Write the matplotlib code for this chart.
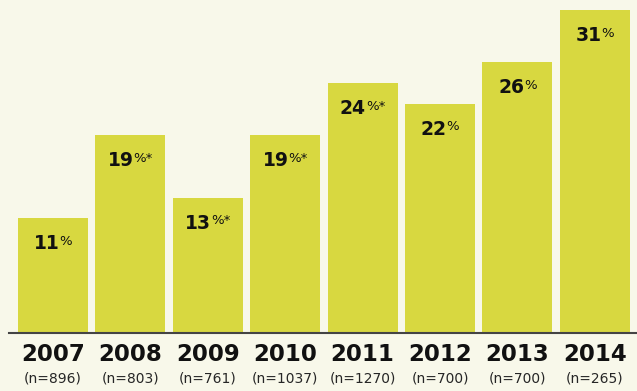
import matplotlib
matplotlib.use("Agg")
import matplotlib.pyplot as plt
from matplotlib.transforms import offset_copy

years = ["2007", "2008", "2009", "2010", "2011", "2012", "2013", "2014"]
counts = ["(n=896)", "(n=803)", "(n=761)", "(n=1037)", "(n=1270)", "(n=700)", "(n=700)", "(n=265)"]
values = [11, 19, 13, 19, 24, 22, 26, 31]
flags = ["", "*", "*", "*", "*", "", "", ""]

bg = "#f8f8ea"
bar_color = "#d8d840"
font = "DejaVu Sans"

fig = plt.figure(figsize=(6.37, 3.91), dpi=100, facecolor=bg)
ax = fig.add_axes([9 / 637, 58 / 391, 628 / 637, 333 / 391])
ax.set_facecolor(bg)

x = list(range(len(years)))
ax.bar(x, values, width=0.904, color=bar_color, zorder=2)
ax.set_xlim(-0.568, 7.545)
ax.set_ylim(0, 31.96)

for s in ["top", "right", "left"]:
    ax.spines[s].set_visible(False)
ax.spines["bottom"].set_color("#444444")
ax.spines["bottom"].set_linewidth(1.5)
ax.set_yticks([])
ax.set_xticks([])

# year and sample size under each bar
for i in x:
    ax.annotate(years[i], (i, 0), xytext=(0, -7.5), textcoords="offset points",
                ha="center", va="top", fontsize=16.5, fontweight="bold",
                family=font, color="#111111")
    ax.annotate(counts[i], (i, 0), xytext=(0, -27.5), textcoords="offset points",
                ha="center", va="top", fontsize=10, family=font, color="#262626")

# value labels: bold number with small superscript % and flag
fig.canvas.draw()
renderer = fig.canvas.get_renderer()
px = 72 / fig.dpi
for i in x:
    num = ax.text(i, values[i], str(values[i]), ha="left", va="top",
                  fontsize=13.5, fontweight="bold", family=font, color="#111111")
    suf = ax.text(i, values[i], "%" + flags[i], ha="left", va="top",
                  fontsize=9.5, family=font, color="#111111")
    w1 = num.get_window_extent(renderer).width
    w2 = suf.get_window_extent(renderer).width
    total = w1 + w2
    num.set_transform(offset_copy(ax.transData, fig=fig, x=-total / 2 * px, y=-11.5, units="points"))
    suf.set_transform(offset_copy(ax.transData, fig=fig, x=(-total / 2 + w1) * px, y=-12, units="points"))

fig.savefig("out.png", dpi=100, facecolor=bg)
